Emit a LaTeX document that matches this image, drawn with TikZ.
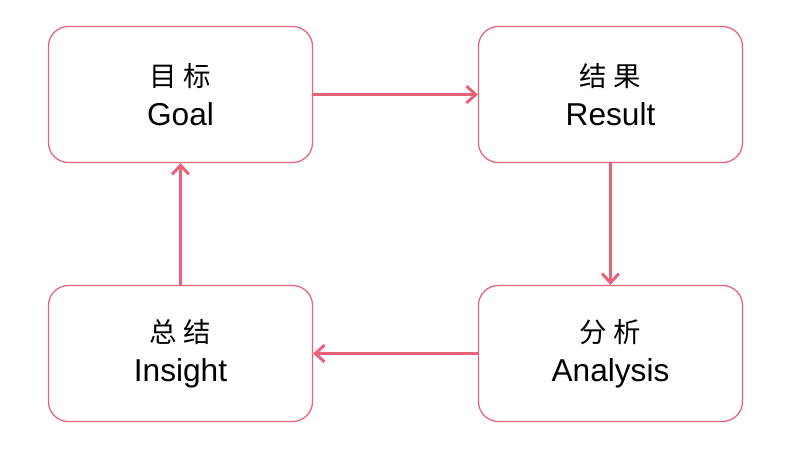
\documentclass[tikz,border=0pt]{standalone}
\usepackage{fontspec}
\setmainfont{Liberation Sans}
\newfontfamily\cjk{Noto Sans CJK SC}
\usetikzlibrary{arrows.meta}
\definecolor{boxred}{HTML}{E8627A}
\tikzset{stepbox/.style={draw=boxred, line width=0.9pt, rounded corners=0.5cm,
    minimum width=6.6cm, minimum height=3.4cm, align=center, inner sep=0pt,
    font=\fontsize{22.5}{28}\selectfont}}
\tikzset{link/.style={draw=boxred, line width=2.1pt,
    -{Straight Barb[length=6.5pt,width=12pt]}}}
\newcommand{\zh}[2]{{\cjk\fontsize{19.5}{28}\selectfont #1\hspace{.25em}#2}}

\begin{document}
\begin{tikzpicture}[x=0.025cm, y=-0.025cm]
        \useasboundingbox (0,0) rectangle (802,450);
        \node [stepbox] (G) at (180.5,94.5) {\zh{目}{标}\\Goal};
        \node [stepbox] (I) at (180.5,353.5) {\zh{总}{结}\\Insight}
          edge [link] (G);
        \node [stepbox] (A) at (610.5,353.5) {\zh{分}{析}\\Analysis}
          edge [link] (I);
        \node [stepbox] (R) at (610.5,94.5) {\zh{结}{果}\\Result}
          edge [link] (A);
        \draw [link] (G) -- (R);
      \end{tikzpicture}
\end{document}
